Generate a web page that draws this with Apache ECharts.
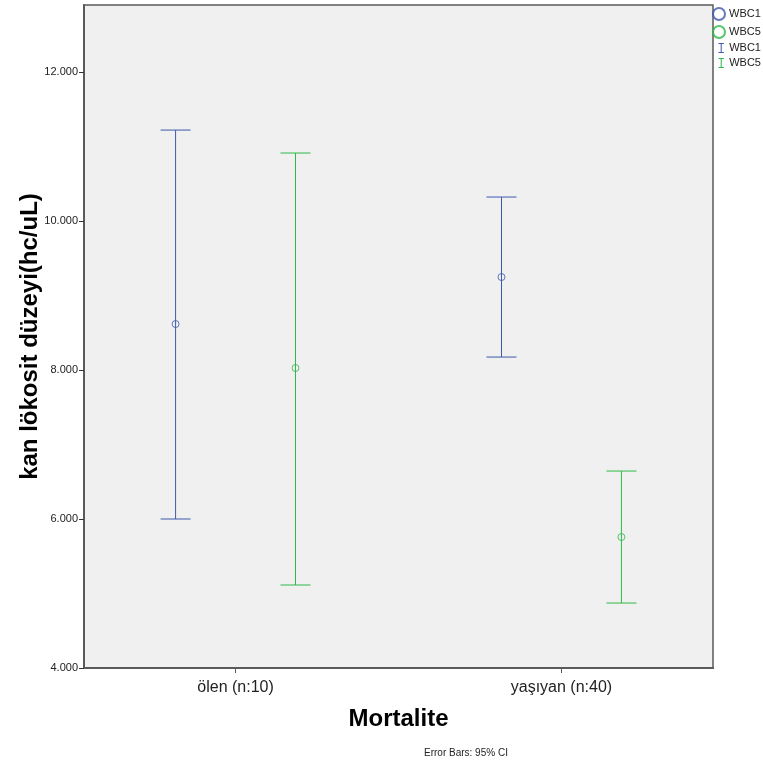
<!DOCTYPE html>
<html>
<head>
<meta charset="utf-8">
<script src="https://cdn.jsdelivr.net/npm/echarts@6/dist/echarts.min.js"></script>
<style>
html, body { margin: 0; padding: 0; background: #fff; }
#main { width: 763px; height: 765px; }
</style>
</head>
<body>
<div id="main"></div>
<script>
var categories = ['ölen (n:10)', 'yaşıyan (n:40)'];
var yTicks = [4000, 6000, 8000, 10000, 12000];
// WBC1: ortalama ve %95 GA
var wbc1Mean = [8617, 9248];
var wbc1Low = [6000, 8174];
var wbc1High = [11221, 10322];
// WBC5
var wbc5Mean = [8027, 5758];
var wbc5Low = [5114, 4872];
var wbc5High = [10913, 6644];

var BLUE = '#3e58ac';
var GREEN = '#2eb848';
var catPos = [1, 2];
var shift = 0.184; // grup içi kaydırma

function pts(mean, dx) {
	var out = [];
	for (var i = 0; i < mean.length; i++) {
		out.push([catPos[i] + dx, mean[i]]);
	}
	return out;
}
function bars(low, high, dx) {
	var out = [];
	for (var i = 0; i < low.length; i++) {
		out.push([catPos[i] + dx, low[i], high[i]]);
	}
	return out;
}

function errorBar(color) {
	return function (params, api) {
		var x = api.value(0);
		var lo = api.coord([x, api.value(1)]);
		var hi = api.coord([x, api.value(2)]);
		var w = 15;
		var style = { stroke: color, lineWidth: 1 };
		return {
			type: 'group',
			children: [
				{ type: 'line', shape: { x1: lo[0], y1: lo[1], x2: hi[0], y2: hi[1] }, style: style },
				{ type: 'line', shape: { x1: hi[0] - w, y1: hi[1], x2: hi[0] + w, y2: hi[1] }, style: style },
				{ type: 'line', shape: { x1: lo[0] - w, y1: lo[1], x2: lo[0] + w, y2: lo[1] }, style: style }
			]
		};
	};
}

var myChart = echarts.init(document.getElementById('main'));
var ibeam = 'path://M0,0L6,0M3,0L3,10M0,10L6,10';

var option = {
	animation: false,
	textStyle: { fontFamily: 'Liberation Sans, Arial, sans-serif' },
	title: {
		text: 'Error Bars: 95% CI',
		left: 424,
		top: 748,
		padding: 0,
		textStyle: { fontSize: 10, fontWeight: 'normal', color: '#222' }
	},
	legend: [
		{
			data: ['WBC1', 'WBC5'],
			orient: 'vertical',
			left: 712,
			top: 7,
			itemWidth: 12,
			itemHeight: 12,
			itemGap: 4,
			padding: 0,
			icon: 'circle',
			textStyle: { fontSize: 11, color: '#222', padding: [0, 0, 0, -1] }
		},
		{
			data: [
				{ name: 'WBC1 ', icon: ibeam, itemStyle: { color: 'none', borderColor: BLUE, borderWidth: 1 } },
				{ name: 'WBC5 ', icon: ibeam, itemStyle: { color: 'none', borderColor: GREEN, borderWidth: 1 } }
			],
			orient: 'vertical',
			left: 716,
			top: 41,
			itemWidth: 6,
			itemHeight: 9,
			itemGap: 1,
			padding: 0,
			textStyle: { fontSize: 11, color: '#222', padding: [0, 0, 0, 0] }
		}
	],
	grid: {
		left: 84,
		top: 5,
		right: 50,
		bottom: 97,
		show: true,
		backgroundColor: '#f0f0f0',
		borderColor: '#5a5a5a',
		borderWidth: 1.5
	},
	xAxis: {
		type: 'value',
		min: 0.535,
		max: 2.465,
		name: 'Mortalite',
		nameLocation: 'middle',
		nameGap: 39,
		nameTextStyle: { fontSize: 24, fontWeight: 'bold', color: '#000' },
		splitLine: { show: false },
		axisLine: { show: true, lineStyle: { color: '#5a5a5a', width: 2 } },
		axisTick: { show: true, length: 5, customValues: catPos, lineStyle: { color: '#5a5a5a' } },
		axisLabel: {
			customValues: catPos,
			fontSize: 16,
			color: '#222',
			margin: 12,
			formatter: function (v) { return categories[Math.round(v) - 1]; }
		}
	},
	yAxis: {
		type: 'value',
		min: 4000,
		max: 12900,
		interval: 2000,
		name: 'kan lökosit düzeyi(hc/uL)',
		nameLocation: 'middle',
		nameGap: 42,
		nameMoveOverlap: false,
		nameTextStyle: { fontSize: 24, fontWeight: 'bold', color: '#000' },
		splitLine: { show: false },
		axisLine: { show: true, lineStyle: { color: '#5a5a5a', width: 2 } },
		axisTick: { show: true, length: 5, customValues: yTicks, lineStyle: { color: '#333' } },
		axisLabel: {
			customValues: yTicks,
			fontSize: 11,
			color: '#222',
			margin: 6,
			formatter: function (v) { return (v / 1000).toFixed(3); }
		}
	},
	series: [
		{
			name: 'WBC1',
			type: 'scatter',
			data: pts(wbc1Mean, -shift),
			symbol: 'circle',
			symbolSize: 7,
			itemStyle: { color: 'rgba(0,0,0,0)', borderColor: BLUE, borderWidth: 1 },
			z: 5
		},
		{
			name: 'WBC5',
			type: 'scatter',
			data: pts(wbc5Mean, shift),
			symbol: 'circle',
			symbolSize: 7,
			itemStyle: { color: 'rgba(0,0,0,0)', borderColor: GREEN, borderWidth: 1 },
			z: 5
		},
		{
			name: 'WBC1 ',
			type: 'custom',
			data: bars(wbc1Low, wbc1High, -shift),
			renderItem: errorBar(BLUE),
			itemStyle: { color: BLUE },
			encode: { x: 0, y: [1, 2] }
		},
		{
			name: 'WBC5 ',
			type: 'custom',
			data: bars(wbc5Low, wbc5High, shift),
			renderItem: errorBar(GREEN),
			itemStyle: { color: GREEN },
			encode: { x: 0, y: [1, 2] }
		}
	]
};
myChart.setOption(option);
</script>
</body>
</html>
